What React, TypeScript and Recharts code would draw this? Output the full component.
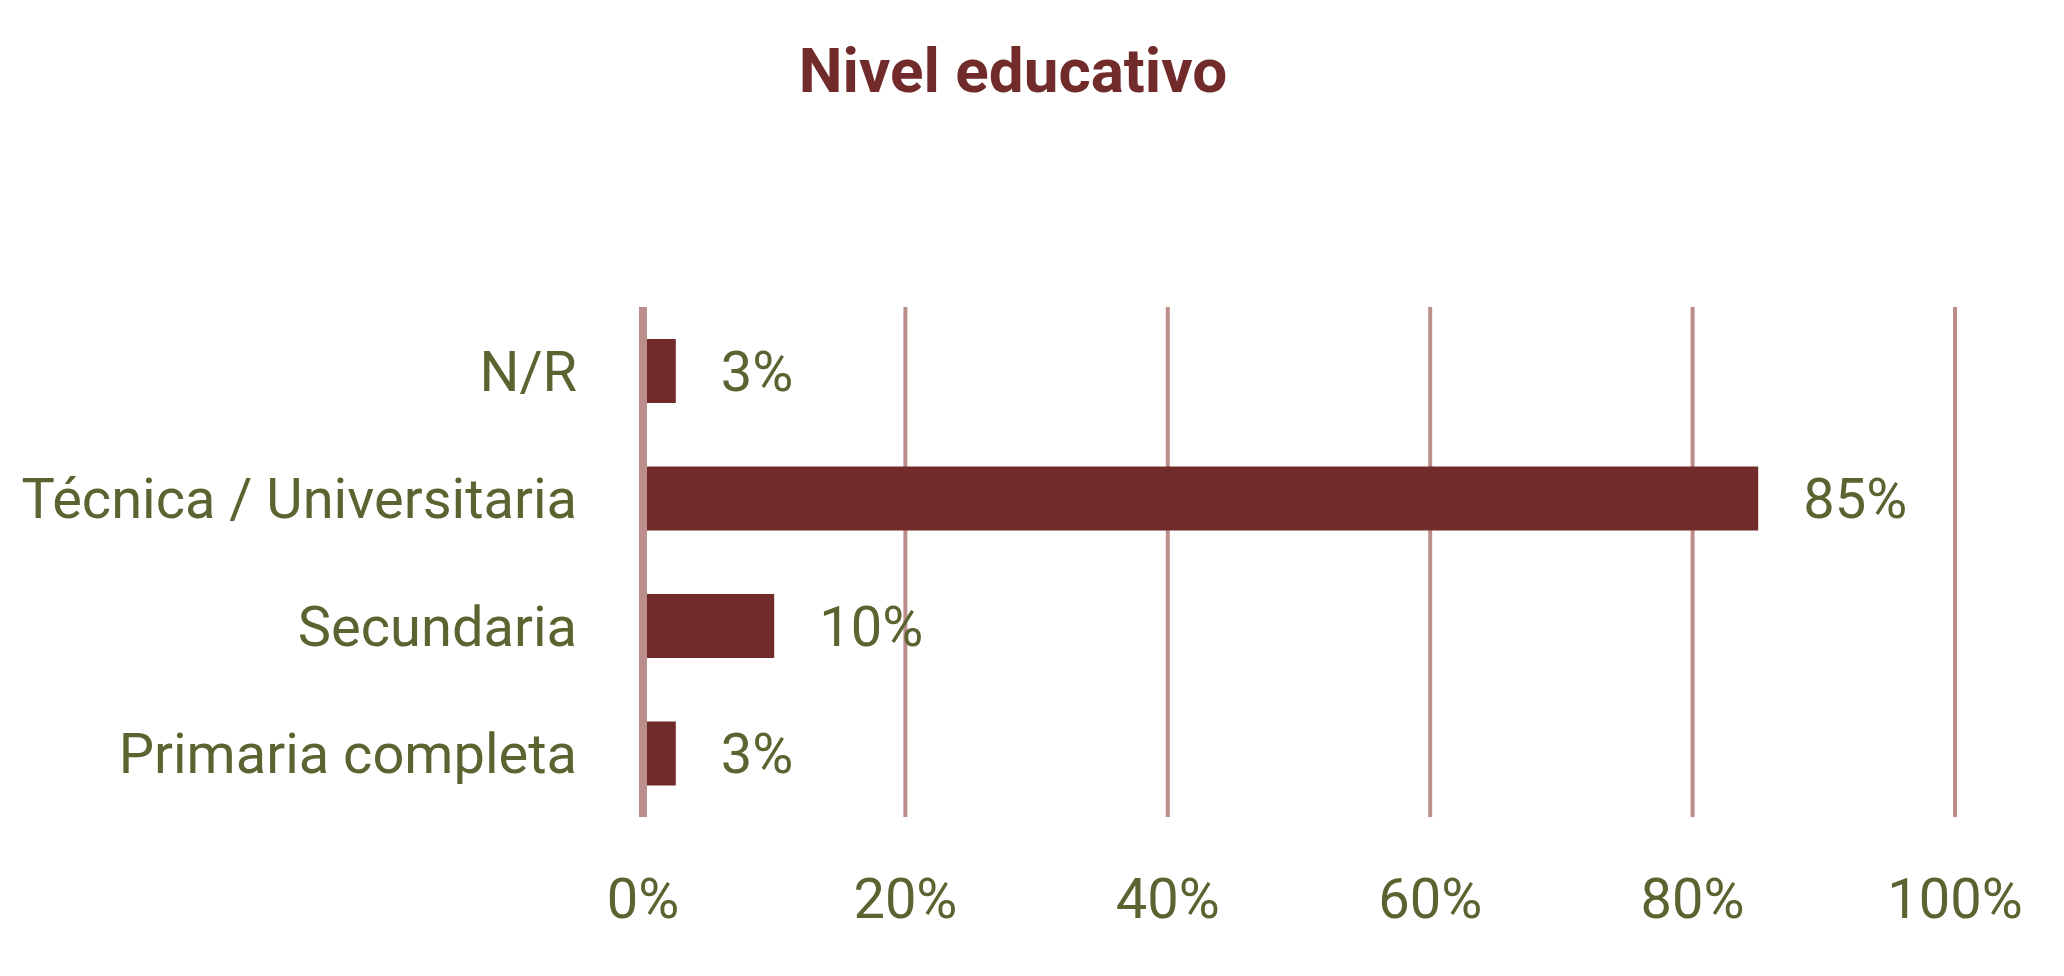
import { BarChart, Bar, XAxis, YAxis, CartesianGrid, LabelList } from 'recharts'

const categories = ['N/R', 'Técnica / Universitaria', 'Secundaria', 'Primaria completa']
const shares = [2.5, 85, 10, 2.5]
const xTicks = [0, 20, 40, 60, 80, 100]

const data = categories.map((name, i) => ({ name, value: shares[i] }))

const OLIVE = '#5b6330'
const WINE = '#722b2b'
const GRID = '#bb8e8b'
const FONT = 'Roboto, "Noto Sans", sans-serif'

export default function App() {
  return (
    <div style={{ position: 'absolute', left: 0, top: 0, width: 2064, height: 976, background: '#fff' }}>
      <svg width={2064} height={120} style={{ position: 'absolute', left: 0, top: 0 }}>
        <text x={1013} y={92} textAnchor='middle' fill={WINE} fontFamily={FONT} fontWeight={700} fontSize={62}>
          Nivel educativo
        </text>
      </svg>
      <div style={{ position: 'absolute', left: 0, top: 0 }}>
        <BarChart
          width={2064}
          height={976}
          data={data}
          layout='vertical'
          margin={{ top: 307, right: 109, bottom: 0, left: 0 }}
          barCategoryGap='25%'
        >
          <CartesianGrid horizontal={false} stroke={GRID} strokeWidth={4} />
          <XAxis
            type='number'
            domain={[0, 100]}
            ticks={xTicks}
            height={159}
            axisLine={false}
            tickLine={false}
            tickSize={0}
            tickMargin={61}
            tickFormatter={(v) => `${v}%`}
            tick={{ fill: OLIVE, fontSize: 56, fontFamily: FONT }}
          />
          <YAxis
            type='category'
            dataKey='name'
            width={643}
            axisLine={{ stroke: GRID, strokeWidth: 8 }}
            tickLine={false}
            tickSize={0}
            tickMargin={66}
            tick={{ fill: OLIVE, fontSize: 56, fontFamily: FONT }}
          />
          <Bar dataKey='value' fill={WINE} isAnimationActive={false}>
            <LabelList
              dataKey='value'
              position='right'
              offset={45}
              formatter={(v) => `${Math.round(Number(v))}%`}
              fill={OLIVE}
              fontSize={56}
              fontFamily={FONT}
            />
          </Bar>
        </BarChart>
      </div>
    </div>
  )
}
